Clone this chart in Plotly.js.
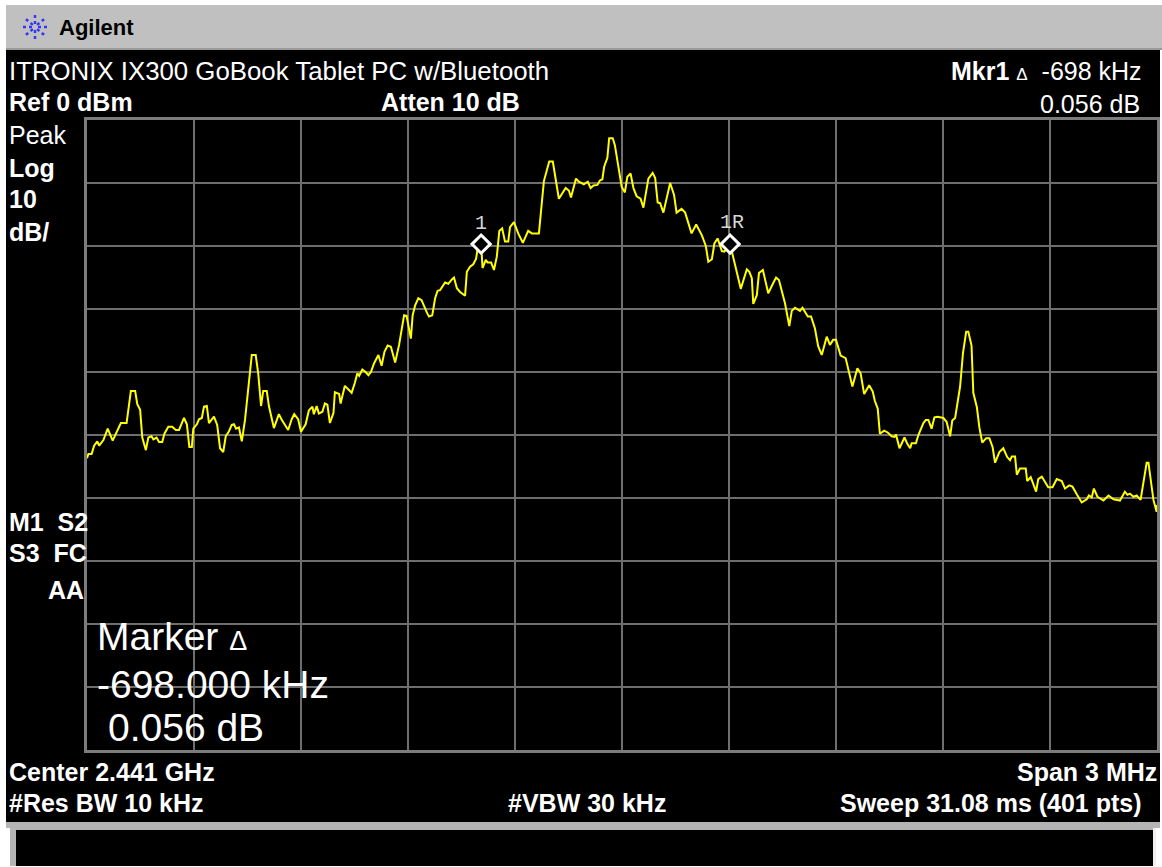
<!DOCTYPE html>
<html>
<head>
<meta charset="utf-8">
<script src="https://cdn.plot.ly/plotly-3.0.1.min.js"></script>
<style>
  html, body { margin: 0; padding: 0; background: #ffffff; }
  #chart { width: 1162px; height: 867px; }
</style>
</head>
<body>
<div id="chart"></div>
<script>
// ---- Data (frequency offset from centre in kHz, level in dBm) ----
const centerGHz = 2.441;
const spanMHz = 3;
const freqKHz = [
  -1500,-1496,-1487,-1480,-1471,-1466,-1454,-1442,-1428,-1417,-1405,-1389,-1377,-1365,-1359,-1351,
  -1345,-1335,-1328,-1319,-1314,-1305,-1298,-1289,-1283,-1272,-1261,-1251,-1242,-1228,-1220,-1213,
  -1206,-1202,-1192,-1186,-1178,-1172,-1164,-1158,-1144,-1135,-1127,-1118,-1111,-1102,-1094,-1088,
  -1082,-1074,-1066,-1057,-1048,-1038,-1027,-1020,-1012,-1006,-996,-990,-976,-962,-954,-945,-936,
  -926,-919,-908,-900,-887,-878,-868,-864,-856,-850,-840,-833,-826,-819,-809,-805,-793,-789,-777,
  -769,-758,-749,-742,-737,-728,-719,-711,-704,-695,-683,-674,-666,-657,-648,-636,-625,-611,-604,
  -592,-587,-580,-571,-562,-546,-541,-532,-524,-517,-510,-496,-487,-477,-471,-463,-454,-440,-435,
  -426,-417,-409,-403,-395,-391,-382,-377,-367,-359,-351,-344,-336,-328,-319,-314,-303,-291,-278,
  -263,-253,-233,-219,-204,-194,-188,-177,-158,-149,-143,-129,-121,-107,-96,-88,-80,-69,-62,-55,
  -50,-41,-36,-26,-20,-8,-1,8,15,24,32,41,52,60,74,86,93,100,107,116,135,146,153,167,177,195,208,
  224,235,242,252,259,268,280,287,303,320,333,350,357,364,368,378,384,395,410,423,432,440,457,469,
  476,485,499,506,521,530,541,550,560,574,583,592,600,613,627,646,660,669,679,693,703,709,717,723,
  735,745,756,764,768,778,792,800,808,812,824,831,845,852,859,868,876,885,901,910,920,926,934,948,
  956,965,971,980,985,995,1002,1010,1021,1030,1039,1046,1058,1069,1080,1088,1093,1102,1107,1116,
  1132,1136,1146,1161,1167,1177,1195,1207,1219,1233,1242,1254,1263,1275,1289,1303,1309,1317,1323,
  1333,1350,1364,1378,1396,1410,1417,1424,1434,1443,1454,1471,1476,1490,1499,1500
];
const levelDbm = [
  -53.7,-53.0,-53.0,-51.7,-51.0,-51.7,-50.8,-49.0,-50.9,-49.5,-48.1,-48.1,-43.0,-43.0,-45.1,-46.0,
  -50.4,-52.4,-50.4,-50.2,-50.7,-50.4,-51.1,-51.1,-49.8,-48.7,-48.7,-49.2,-49.2,-47.3,-48.3,-51.9,
  -51.9,-49.0,-48.3,-47.5,-47.3,-45.5,-45.4,-48.1,-47.1,-48.4,-52.1,-52.7,-50.2,-49.4,-48.4,-48.3,
  -49.0,-48.8,-51.0,-47.6,-42.3,-37.3,-37.3,-40.2,-45.4,-43.0,-43.0,-45.4,-48.9,-46.7,-47.6,-48.3,-49.2,
  -47.5,-46.7,-47.5,-49.5,-48.3,-46.1,-45.5,-46.7,-45.4,-46.6,-46.3,-45.0,-45.2,-48.1,-46.5,-43.2,-43.5,-45.0,-42.2,
  -42.6,-43.3,-41.7,-40.2,-40.6,-39.6,-40.0,-40.5,-40.0,-38.6,-37.3,-39.0,-36.8,-35.8,-36.0,-38.5,-35.7,-31.0,-31.1,
  -34.7,-31.0,-29.4,-28.3,-28.6,-30.7,-31.2,-31.0,-28.3,-27.1,-27.0,-25.8,-26.0,-25.3,-25.0,-26.7,-27.3,-27.9,-24.1,
  -23.3,-22.9,-22.0,-19.7,-19.7,-23.5,-22.2,-22.6,-22.6,-23.8,-21.7,-17.6,-17.2,-19.3,-19.3,-17.0,-16.2,-18.0,-19.5,
  -17.6,-18.0,-18.0,-9.7,-6.6,-6.6,-8.7,-12.5,-10.8,-11.2,-12.3,-9.3,-9.8,-10.2,-9.8,-10.8,-10.4,-10.3,-9.6,-9.4,
  -7.4,-6.0,-2.9,-2.9,-4.0,-8.2,-10.6,-11.5,-9.0,-8.5,-10.8,-12.1,-12.5,-13.9,-9.3,-8.4,-9.2,-13.1,-13.2,-14.7,-10.0,-11.9,-14.7,-14.1,-14.7,-18.0,-16.6,
  -18.3,-20.0,-22.5,-22.1,-19.6,-18.8,-20.8,-20.9,-19.7,-23.5,-26.8,-23.7,-24.1,-25.1,-29.2,-27.8,-24.3,-23.8,-27.5,-26.0,-25.0,-25.4,-29.1,-32.7,
  -30.3,-29.8,-30.3,-29.8,-31.2,-31.2,-33.1,-35.9,-37.3,-34.4,-35.7,-34.9,-34.9,-37.4,-37.8,-42.3,-39.4,-40.2,-43.5,-42.1,-43.1,-44.6,-45.8,-49.8,
  -49.3,-49.6,-50.2,-50.3,-49.9,-52.1,-50.4,-51.4,-52.1,-51.3,-51.3,-50.0,-48.1,-47.6,-47.6,-49.0,-47.2,-47.1,-47.3,-47.9,-50.2,-47.7,-47.3,-42.3,
  -37.0,-33.6,-33.6,-35.8,-43.3,-45.6,-48.8,-51.2,-50.5,-50.5,-51.9,-54.4,-52.7,-52.1,-53.5,-54.0,-53.4,-53.4,-56.3,-55.3,
  -55.3,-57.3,-56.7,-59.0,-57.0,-56.6,-58.3,-58.3,-57.0,-57.3,-58.5,-58.0,-58.2,-59.4,-60.7,-60.2,-59.6,-59.9,-58.5,
  -59.8,-60.4,-59.6,-60.2,-60.4,-59.0,-59.5,-59.3,-59.8,-59.6,-60.3,-54.4,-54.4,-60.3,-62.2,-61.1
];
const markerKHz = [-395, 303];
const markerDbm = [-19.7, -19.7];
const markerLabels = ['1', '1R'];
const yTicks = [-100, -90, -80, -70, -60, -50, -40, -30, -20, -10, 0];

// ---- Layout geometry helpers (pixel -> paper) ----
const W = 1162, H = 867;
const PL = 87, PR = 1157, PT = 120, PB = 750;
const px = x => (x - PL) / (PR - PL);
const py = y => (PB - y) / (PB - PT);

const FONT = 'Liberation Sans, Arial, Helvetica, sans-serif';
const MONO = 'Liberation Mono, DejaVu Sans Mono, monospace';
function ann(text, x, y, opts) {
  opts = opts || {};
  return {
    text: text, xref: 'paper', yref: 'paper', x: px(x), y: py(y),
    xanchor: opts.anchor || 'left', yanchor: 'middle', showarrow: false,
    borderpad: 0,
    font: { family: opts.family || FONT, size: opts.size || 25, color: opts.color || '#ffffff' }
  };
}
const B = s => '<b>' + s + '</b>';

const annotations = [
  ann(B('Agilent'), 58, 27, { size: 22, color: '#000000' }),
  ann('ITRONIX IX300 GoBook Tablet PC w/Bluetooth', 8, 71, { size: 25.8 }),
  ann(B('Mkr1') + '&nbsp;<span style="font-size:17px">Δ</span>&nbsp;&nbsp;-698 kHz', 1143, 71, { anchor: 'right' }),
  ann(B('Ref 0 dBm'), 8, 102),
  ann(B('Atten 10 dB'), 380, 102),
  ann('0.056 dB', 1141, 104, { anchor: 'right' }),
  ann('Peak', 8, 135),
  ann(B('Log'), 8, 168),
  ann(B('10'), 8, 199),
  ann(B('dB/'), 8, 232),
  ann(B('M1&nbsp;&nbsp;S2'), 8, 522),
  ann(B('S3&nbsp;&nbsp;FC'), 8, 553),
  ann(B('AA'), 85, 590, { anchor: 'right' }),
  ann('Marker <span style="font-size:27px">Δ</span>', 96, 636, { size: 39 }),
  ann('-698.000 kHz', 96, 684, { size: 39 }),
  ann('0.056 dB', 107, 727, { size: 39 }),
  ann(B('Center 2.441 GHz'), 8, 772),
  ann(B('Span 3 MHz'), 1158, 772, { anchor: 'right' }),
  ann(B('#Res BW 10 kHz'), 8, 803),
  ann(B('#VBW 30 kHz'), 587, 803, { anchor: 'center' }),
  ann(B('Sweep 31.08 ms (401 pts)'), 1143, 803, { anchor: 'right' }),
  ann(markerLabels[0], 481, 223, { anchor: 'center', size: 20, family: MONO, color: '#d8d8d8' }),
  ann(markerLabels[1], 732, 222, { anchor: 'center', size: 20, family: MONO, color: '#d8d8d8' })
];

function rect(x0, y0, x1, y1, fill, layer) {
  return { type: 'rect', xref: 'paper', yref: 'paper', x0: px(x0), x1: px(x1), y0: py(y1), y1: py(y0),
           fillcolor: fill, line: { width: 0 }, layer: layer || 'below' };
}
function seg(x0, y0, x1, y1, color, width, dash) {
  return { type: 'line', xref: 'paper', yref: 'paper', x0: px(x0), x1: px(x1), y0: py(y0), y1: py(y1),
           line: { color: color, width: width, dash: dash || 'solid' }, layer: 'above' };
}

// Agilent spark logo
const cx = 35, cy = 27;
const logo = [];
for (let k = 0; k < 8; k++) {
  const a = k * Math.PI / 4;
  logo.push(seg(cx + 3 * Math.cos(a), cy + 3 * Math.sin(a), cx + 14 * Math.cos(a), cy + 12 * Math.sin(a), '#3434ff', 2.5, 'dot'));
}

const shapes = [
  rect(6, 5, 1162, 49, '#c0c0c0'),
  rect(6, 48, 1162, 50, '#9a9a9a'),
  rect(6, 50, 1160, 822, '#000000'),
  rect(6, 822, 1160, 828, '#b4b4b4'),
  rect(10, 828, 1156, 866, '#b4b4b4'),
  rect(16, 830, 1153, 866, '#000000'),
  rect(1153, 828, 1156, 866, '#f0f0f0')
].concat(logo);

const traceData = {
  x: freqKHz, y: levelDbm, type: 'scatter', mode: 'lines',
  line: { color: '#ffff00', width: 2 }, hoverinfo: 'skip'
};
const markerTrace = {
  x: markerKHz, y: markerDbm, type: 'scatter', mode: 'markers',
  marker: { symbol: 'diamond', size: 14, color: '#000000', line: { color: '#ffffff', width: 3 } },
  hoverinfo: 'skip', cliponaxis: false
};

const layout = {
  width: W, height: H,
  margin: { l: PL, r: W - PR, t: PT, b: H - PB, pad: 0 },
  paper_bgcolor: '#ffffff',
  plot_bgcolor: '#000000',
  showlegend: false,
  xaxis: {
    range: [-1500, 1500], tick0: -1500, dtick: spanMHz * 100,
    showgrid: true, gridcolor: '#6e6e6e', gridwidth: 2,
    zeroline: false, showticklabels: false, ticks: '',
    showline: true, mirror: true, linecolor: '#7c7c7c', linewidth: 3, fixedrange: true
  },
  yaxis: {
    range: [-100, 0], tickvals: yTicks,
    showgrid: true, gridcolor: '#6e6e6e', gridwidth: 2,
    zeroline: false, showticklabels: false, ticks: '',
    showline: true, mirror: true, linecolor: '#7c7c7c', linewidth: 3, fixedrange: true
  },
  shapes: shapes,
  annotations: annotations
};

Plotly.newPlot('chart', [traceData, markerTrace], layout, { displayModeBar: false, staticPlot: true });
</script>
</body>
</html>
